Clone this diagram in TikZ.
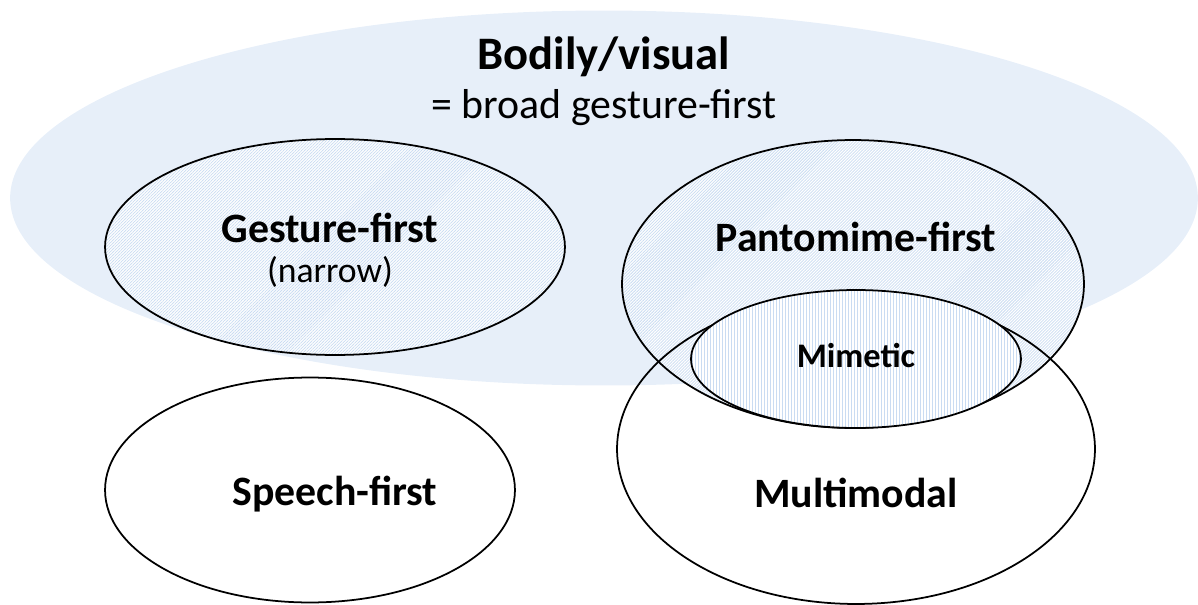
\documentclass[tikz,border=0pt]{standalone}
\usepackage{fontspec}
\setmainfont{Carlito}
\usepackage{xcolor}
\usetikzlibrary{shapes.geometric, positioning, patterns.meta}
\definecolor{veil-blue}{HTML}{E7EFF9}
\definecolor{stripe-blue}{HTML}{CADCF2}

\begin{document}
\begin{tikzpicture}[x=0.02cm, y=-0.02cm,
    blob/.style={ellipse, inner sep=0pt, outer sep=0pt},
    ring/.style={blob, draw=black, line width=1pt},
    diag/.style={preaction={fill=white}, pattern={Lines[angle=45, distance=0.0424cm, line width=0.015cm]}, pattern color=stripe-blue},
    vert/.style={preaction={fill=white}, pattern={Lines[angle=90, distance=0.06cm, line width=0.015cm]}, pattern color=stripe-blue},
    big/.style={font=\fontsize{26.5}{30}\selectfont\bfseries},
    mid/.style={font=\fontsize{23.8}{28}\selectfont\bfseries},
    plain/.style={font=\fontsize{23.8}{28}\selectfont}
]
    \useasboundingbox (0,0) rectangle (1198,605);

    % outer region, no outline
    \node (bodily) [blob, fill=veil-blue, minimum width=23.76cm, minimum height=7.5cm] at (604,198) {};

    \node (gesture) [ring, diag, minimum width=9.2cm, minimum height=4.32cm] at (335,247) {};
    \node (speech) [ring, fill=white, minimum width=8.2cm, minimum height=4.5cm] at (310,490) {};
    \node (panto) [ring, diag, minimum width=9.24cm, minimum height=5.76cm] at (853,284) {};
    \node (multi) [ring, minimum width=9.56cm, minimum height=6.2cm] at (856,449) {};
    \node (mimetic) [ring, vert, minimum width=6.6cm, minimum height=2.76cm] at (856,359) {};

    \node (bodilytitle) [big] at (604,57) {Bodily/visual};
    \node (bodilysub) [plain] at (604,108) {= broad gesture-first};
    \node (gesturetitle) [mid] at (330,228) {Gesture-first};
    \node (gesturesub) [plain, font=\fontsize{20.3}{24}\selectfont] at (330,272) {(narrow)};
    \node (pantotitle) [mid] at (856,237) {Pantomime-first};
    \node (mimetictitle) [font=\fontsize{19.6}{22}\selectfont\bfseries] at (856,356) {Mimetic};
    \node (speechtitle) [mid] at (335,494) {Speech-first};
    \node (multititle) [mid] at (856,493) {Multimodal};
\end{tikzpicture}
\end{document}
